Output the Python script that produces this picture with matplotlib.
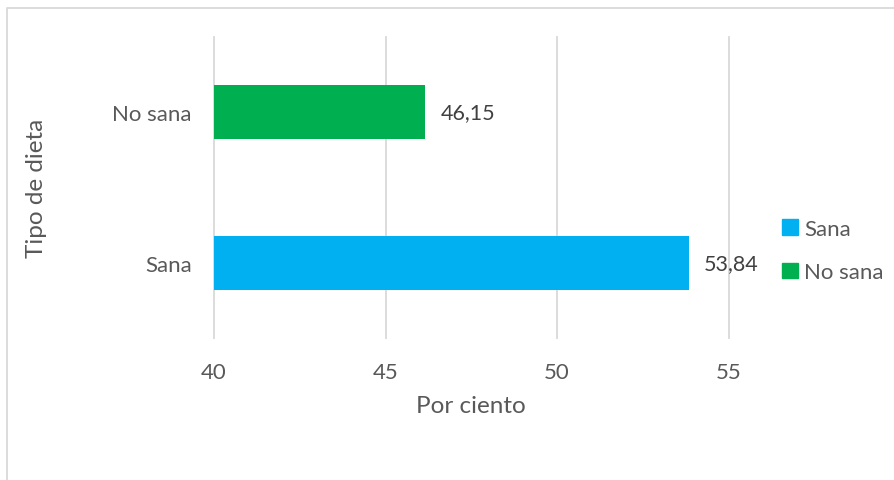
import matplotlib
matplotlib.use("Agg")
import matplotlib.pyplot as plt
from matplotlib.patches import Patch
from matplotlib.lines import Line2D

# Data
categories = ["Sana", "No sana"]
values = [53.84, 46.15]
labels = ["53,84", "46,15"]
colors = ["#00B0F0", "#00B050"]
xticks = [40, 45, 50, 55]

plt.rcParams['font.family'] = ['Lato', 'DejaVu Sans']
text_col = "#595959"
grid_col = "#d9d9d9"

W, H = 895, 481
fig = plt.figure(figsize=(W / 100, H / 100), dpi=100)

# Plot area in pixels: x 214..728.7, y 38..339
ax = fig.add_axes([214 / W, 1 - 339 / H, (728.7 - 214) / W, (339 - 38) / H])

ypos = list(range(len(categories)))
ax.barh(ypos, [v - 40 for v in values], left=40, height=0.36, color=colors, zorder=3)

for y, v, lab in zip(ypos, values, labels):
    ax.annotate(lab, (v, y), xytext=(11, 0), textcoords="offset points",
                va="center", ha="left", fontsize=15.5, color="#404040")

ax.set_xlim(40, 55)
ax.set_ylim(-0.5, 1.5)
ax.set_xticks(xticks)
ax.set_xticklabels([str(t) for t in xticks])
ax.set_yticks(ypos)
ax.set_yticklabels(categories)
for x in xticks:
    ax.axvline(x, color=grid_col, lw=1.3, zorder=1, clip_on=False)
for s in ax.spines.values():
    s.set_visible(False)
ax.tick_params(axis="both", length=0, labelsize=16, labelcolor=text_col)
ax.tick_params(axis="x", pad=17)
ax.tick_params(axis="y", pad=16)

ax.set_xlabel("Por ciento", fontsize=17.5, color=text_col, labelpad=10)
ax.set_ylabel("Tipo de dieta", fontsize=17.5, color=text_col, labelpad=47)

handles = [Patch(color=c, label=l) for c, l in zip(colors, categories)]
fig.legend(handles=handles, loc="upper left", bbox_to_anchor=(762 / W, 1 - 200 / H),
           frameon=False, fontsize=16, labelcolor=text_col, handlelength=0.7,
           handleheight=0.7, handletextpad=0.3, labelspacing=1.05)

# chart border (top and left visible)
fig.add_artist(Line2D([7.5 / W, 7.5 / W, 1], [0, 1 - 8.5 / H, 1 - 8.5 / H],
                      transform=fig.transFigure, color=grid_col, lw=1.3))

fig.savefig("out.png", dpi=100, facecolor="white")
